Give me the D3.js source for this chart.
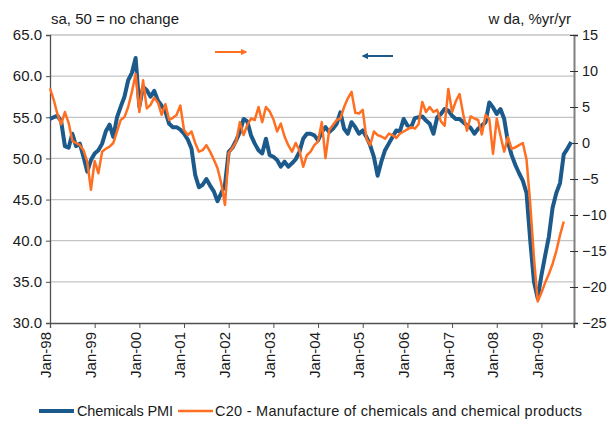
<!DOCTYPE html>
<html><head><meta charset="utf-8">
<script src="https://cdn.jsdelivr.net/npm/d3@7"></script>
<style>body{margin:0;background:#fff}svg{display:block;font-family:"Liberation Sans",Arial,sans-serif}</style>
</head><body><svg id="c" width="607" height="425"></svg>
<script>
// Monthly data from Jan-98
const tickLabels = ["Jan-98","Jan-99","Jan-00","Jan-01","Jan-02","Jan-03","Jan-04","Jan-05","Jan-06","Jan-07","Jan-08","Jan-09"];
const leftTicks = [30,35,40,45,50,55,60,65];
const rightTicks = [-25,-20,-15,-10,-5,0,5,10,15];
const pmi = [54.8,55.0,55.2,54.5,51.5,51.3,53.0,51.5,51.8,50.2,48.4,49.8,
 50.6,51.0,51.8,53.3,54.1,52.6,55.0,56.3,57.5,59.5,60.4,62.2,
 56.3,58.7,58.3,57.5,58.2,57.0,56.4,55.7,54.2,53.8,53.8,53.5,
 53.0,52.3,51.2,48.0,46.5,46.8,47.5,46.7,46.0,44.8,45.8,46.8,
 50.8,51.3,52.2,53.2,54.8,54.5,52.8,51.8,51.0,50.6,52.4,50.4,
 50.2,49.8,49.0,49.6,49.0,49.4,49.9,50.8,52.4,53.0,53.0,52.8,
 52.2,53.2,53.8,53.2,53.6,54.2,55.6,53.6,53.0,54.4,53.8,53.0,
 53.4,52.6,51.6,50.2,47.9,49.6,51.0,51.8,52.6,53.4,53.3,54.8,
 54.0,53.8,54.9,55.0,55.1,54.6,54.2,53.0,55.0,55.4,56.0,55.8,
 55.2,54.8,54.8,54.4,54.0,53.7,53.0,53.6,54.0,54.4,56.8,56.2,
 55.4,56.0,54.8,52.0,50.4,49.2,48.2,47.3,45.8,40.0,35.0,33.0,
 35.8,38.2,40.5,44.0,45.8,47.0,50.5,51.2,52.0];
const c20 = [7.6,6.0,4.0,2.6,4.3,2.8,0.3,0.0,-0.3,-1.0,-2.6,-6.5,
 -2.5,-4.2,-1.2,-0.8,-0.5,0.0,1.6,3.2,3.6,5.0,7.1,9.6,
 4.3,8.7,4.8,5.3,6.3,5.6,3.9,5.4,3.2,3.5,3.9,5.2,
 1.8,1.1,1.6,0.0,-1.2,-1.0,-0.3,-1.2,-2.3,-3.5,-5.6,-8.6,
 -1.4,-0.7,0.2,2.9,1.1,2.5,3.4,3.2,5.0,2.9,5.0,4.4,
 3.3,1.6,2.7,0.9,-0.3,-1.2,0.0,-1.0,-3.3,-1.7,-1.2,-0.3,
 0.2,2.9,-2.1,1.8,2.5,3.2,3.4,5.0,6.2,7.1,4.2,4.1,
 4.6,0.6,-0.3,1.6,1.1,0.9,0.6,1.3,1.1,0.7,1.3,1.6,
 1.9,2.2,2.0,2.6,5.7,4.3,5.0,4.3,4.6,3.0,2.4,7.5,
 4.3,5.8,6.8,4.0,1.7,3.7,3.4,3.2,1.2,3.9,3.3,-1.5,
 3.4,1.0,-1.2,0.8,-0.8,-0.6,-0.3,0.0,-2.3,-8.5,-16.0,-22.0,
 -20.8,-19.4,-18.2,-16.8,-15.0,-12.8,-10.9];
const seriesNames = ["Chemicals PMI","C20 - Manufacture of chemicals and chemical products"];
const leftTitle = "sa, 50 = no change";
const rightTitle = "w da, %yr/yr";

const svg = d3.select("#c");
const L = 50, R = 574, T = 35, B = 323;
const x = d3.scaleLinear().domain([0, 140.75]).range([L, R]);
const yL = d3.scaleLinear().domain([30, 65]).range([B, T]);
const yR = d3.scaleLinear().domain([-25, 15]).range([B, T]);
const blue = "#1b5a8b", orange = "#ff6f21";

// gridlines
svg.append("g").selectAll("line").data(leftTicks.filter(d=>d>30)).join("line")
  .attr("x1", L).attr("x2", R).attr("y1", d=>yL(d)).attr("y2", d=>yL(d))
  .attr("stroke", "#c4c4c4").attr("stroke-width", 1.3);

// left axis
const gl = svg.append("g").attr("transform", `translate(${L},0)`)
  .call(d3.axisLeft(yL).tickValues(leftTicks).tickFormat(d3.format(".1f")).tickSize(4).tickPadding(4));
gl.select(".domain").attr("stroke", "#505050").attr("stroke-width", 1.3);
gl.selectAll(".tick line").attr("stroke", "#505050");
gl.selectAll("text").attr("font-size", 15).attr("fill", "#1a1a1a").attr("font-family", "Liberation Sans, Arial");

// right axis
const gr = svg.append("g").attr("transform", `translate(${R},0)`)
  .call(d3.axisRight(yR).tickValues(rightTicks).tickSize(4).tickPadding(4));
gr.select(".domain").attr("stroke", "#808080").attr("stroke-width", 2);
gr.selectAll(".tick line").attr("stroke", "#303030").attr("x1", -4).attr("x2", 4);
gr.selectAll("text").attr("font-size", 14.5).attr("fill", "#1a1a1a").attr("font-family", "Liberation Sans, Arial");

// bottom axis
const gb = svg.append("g").attr("transform", `translate(0,${B})`)
  .call(d3.axisBottom(x).tickValues(tickLabels.map((d,i)=>i*12)).tickFormat((d,i)=>tickLabels[i]).tickSize(5));
gb.select(".domain").attr("stroke", "#505050").attr("stroke-width", 1.3);
gb.selectAll(".tick line").attr("stroke", "#505050");
gb.selectAll("text").attr("font-size", 15).attr("fill", "#1a1a1a").attr("font-family", "Liberation Sans, Arial")
  .attr("transform", "rotate(-90)").attr("text-anchor", "end").attr("dx", "-9px").attr("dy", "-0.2em").attr("y", 0).attr("x", 0)
  .style("dominant-baseline", "middle");
svg.append("line").attr("x1", R).attr("x2", R).attr("y1", B).attr("y2", B + 5).attr("stroke", "#505050");

// lines
const linePmi = d3.line().x((d,i)=>x(i)).y(d=>yL(d));
const lineC20 = d3.line().x((d,i)=>x(i)).y(d=>yR(d));
svg.append("path").datum(pmi).attr("d", linePmi).attr("fill","none").attr("stroke", blue).attr("stroke-width", 4).attr("stroke-linejoin","round");
svg.append("path").datum(c20).attr("d", lineC20).attr("fill","none").attr("stroke", orange).attr("stroke-width", 2.5).attr("stroke-linejoin","round");

// titles
svg.append("text").attr("x", 51).attr("y", 24).attr("font-size", 15).attr("fill","#1a1a1a").text(leftTitle);
svg.append("text").attr("x", 571).attr("y", 24).attr("font-size", 15).attr("fill","#1a1a1a").attr("text-anchor","end").text(rightTitle);

// arrows
const defs = svg.append("defs");
function marker(id, color){
  defs.append("marker").attr("id", id).attr("viewBox","0 0 10 10").attr("refX", 8).attr("refY", 5)
    .attr("markerWidth", 3.2).attr("markerHeight", 3.2).attr("orient","auto")
    .append("path").attr("d","M0,0 L10,5 L0,10 Z").attr("fill", color);
}
marker("ao", orange); marker("ab", blue);
svg.append("line").attr("x1", 215).attr("x2", 246).attr("y1", 52).attr("y2", 52).attr("stroke", orange).attr("stroke-width", 2).attr("marker-end","url(#ao)");
svg.append("line").attr("x1", 393).attr("x2", 363).attr("y1", 56).attr("y2", 56).attr("stroke", blue).attr("stroke-width", 2).attr("marker-end","url(#ab)");

// legend
const lg = svg.append("g").attr("transform","translate(0,411)");
lg.append("line").attr("x1", 39).attr("x2", 74).attr("stroke", blue).attr("stroke-width", 4);
lg.append("text").attr("x", 77).attr("y", 5).attr("font-size", 14.5).attr("fill","#1a1a1a").attr("textLength", 96).text(seriesNames[0]);
lg.append("line").attr("x1", 178).attr("x2", 213).attr("stroke", orange).attr("stroke-width", 2.5);
lg.append("text").attr("x", 215).attr("y", 5).attr("font-size", 14.5).attr("fill","#1a1a1a").attr("textLength", 367).text(seriesNames[1]);
</script></body></html>
